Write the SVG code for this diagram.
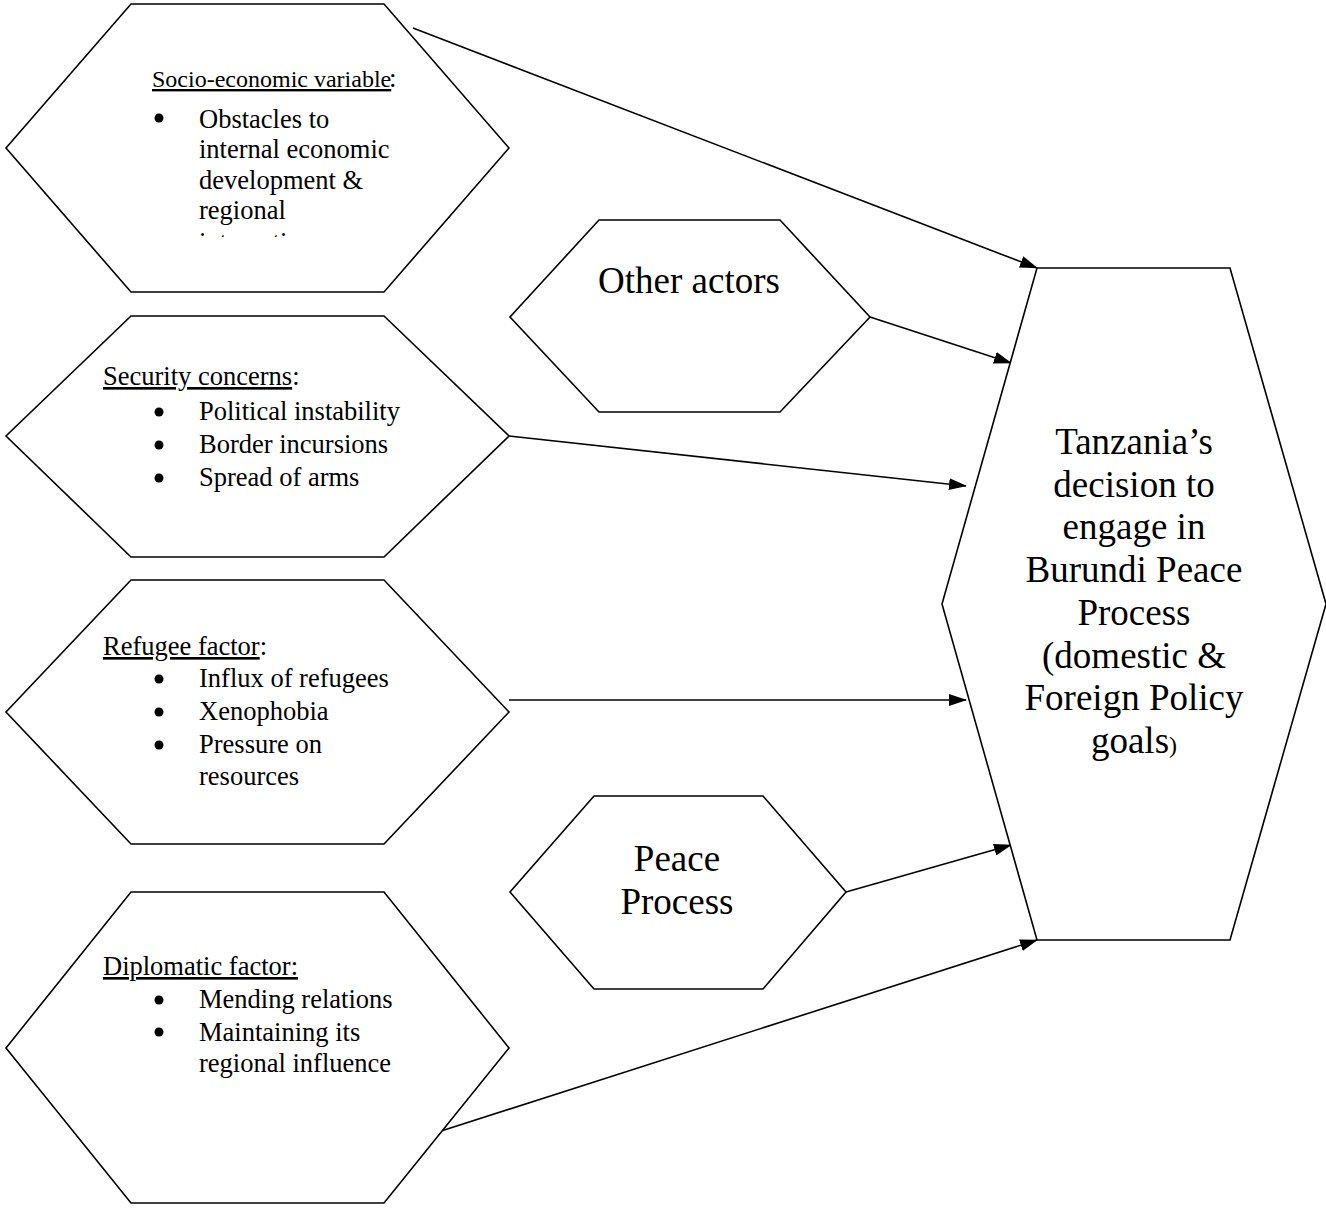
<svg xmlns="http://www.w3.org/2000/svg" width="1326" height="1208" viewBox="0 0 1326 1208">
<defs>
<style>
.hex{fill:#fff;stroke:#000;stroke-width:1.6}
.t{font-family:"Liberation Serif","Times New Roman",serif;fill:#000}
.s{font-size:26.5px}
.big{font-size:37px;text-anchor:middle}
.con{stroke:#000;stroke-width:1.6;fill:none;marker-end:url(#ah)}
</style>
<marker id="ah" markerUnits="userSpaceOnUse" markerWidth="18" markerHeight="12" refX="17" refY="6" orient="auto">
<path d="M0,0 L18,6 L0,12 Z" fill="#000"/>
</marker>
<clipPath id="clipInt"><rect x="190" y="200" width="260" height="37"/></clipPath>
</defs>
<g id="connectors">
<line class="con" x1="413" y1="28" x2="1037" y2="268"/>
<line class="con" x1="870" y1="317" x2="1011" y2="363"/>
<line class="con" x1="509" y1="436" x2="966" y2="486"/>
<line class="con" x1="509" y1="700" x2="966" y2="700"/>
<line class="con" x1="846" y1="892" x2="1011" y2="845"/>
<line class="con" x1="438" y1="1132" x2="1037" y2="940"/>
</g>
<g id="socio">
<polygon class="hex" points="131,4 384,4 509,148 384,292 131,292 6,148"/>
<text class="t" x="152" y="87" font-size="24" text-decoration="underline">Socio-economic variable</text>
<text class="t" x="389" y="87" font-size="27">:</text>
<circle cx="159" cy="118" r="4.5"/>
<text class="t s" x="199" y="128">Obstacles to</text>
<text class="t s" x="199" y="158">internal economic</text>
<text class="t s" x="199" y="189">development &amp;</text>
<text class="t s" x="199" y="219">regional</text>
<text class="t s" x="199" y="251" clip-path="url(#clipInt)">integration</text>
</g>
<g id="security">
<polygon class="hex" points="131,316 384,316 509,436 384,557 131,557 6,436"/>
<text class="t s" x="103" y="385"><tspan text-decoration="underline">Security concerns</tspan>:</text>
<circle cx="159" cy="412" r="4.5"/>
<text class="t s" x="199" y="420">Political instability</text>
<circle cx="159" cy="445" r="4.5"/>
<text class="t s" x="199" y="453">Border incursions</text>
<circle cx="159" cy="478" r="4.5"/>
<text class="t s" x="199" y="486">Spread of arms</text>
</g>
<g id="refugee">
<polygon class="hex" points="131,580 384,580 509,712 384,844 131,844 6,712"/>
<text class="t s" x="103" y="655"><tspan text-decoration="underline">Refugee factor</tspan>:</text>
<circle cx="159" cy="679" r="4.5"/>
<text class="t s" x="199" y="687">Influx of refugees</text>
<circle cx="159" cy="712" r="4.5"/>
<text class="t s" x="199" y="720">Xenophobia</text>
<circle cx="159" cy="745" r="4.5"/>
<text class="t s" x="199" y="753">Pressure on</text>
<text class="t s" x="199" y="785">resources</text>
</g>
<g id="diplomatic">
<polygon class="hex" points="131,892 384,892 509,1048 384,1203 131,1203 6,1048"/>
<text class="t s" x="103" y="975" text-decoration="underline">Diplomatic factor:</text>
<circle cx="159" cy="1000" r="4.5"/>
<text class="t s" x="199" y="1008">Mending relations</text>
<circle cx="159" cy="1032" r="4.5"/>
<text class="t s" x="199" y="1041">Maintaining its</text>
<text class="t s" x="199" y="1072">regional influence</text>
</g>
<g id="other-actors">
<polygon class="hex" points="599,220 780,220 870,317 780,412 599,412 510,317"/>
<text class="t big" x="689" y="293">Other actors</text>
</g>
<g id="peace-process">
<polygon class="hex" points="594,796 763,796 846,892 763,989 594,989 510,892"/>
<text class="t big" x="677" y="871">Peace</text>
<text class="t big" x="677" y="914">Process</text>
</g>
<g id="decision">
<polygon class="hex" points="1037,268 1230,268 1326,604 1230,940 1037,940 942,604"/>
<text class="t big" x="1134" y="454">Tanzania’s</text>
<text class="t big" x="1134" y="497">decision to</text>
<text class="t big" x="1134" y="539">engage in</text>
<text class="t big" x="1134" y="582">Burundi Peace</text>
<text class="t big" x="1134" y="625">Process</text>
<text class="t big" x="1134" y="668">(domestic &amp;</text>
<text class="t big" x="1134" y="710">Foreign Policy</text>
<text class="t big" x="1134" y="753">goals<tspan font-size="24">)</tspan></text>
</g>
</svg>
